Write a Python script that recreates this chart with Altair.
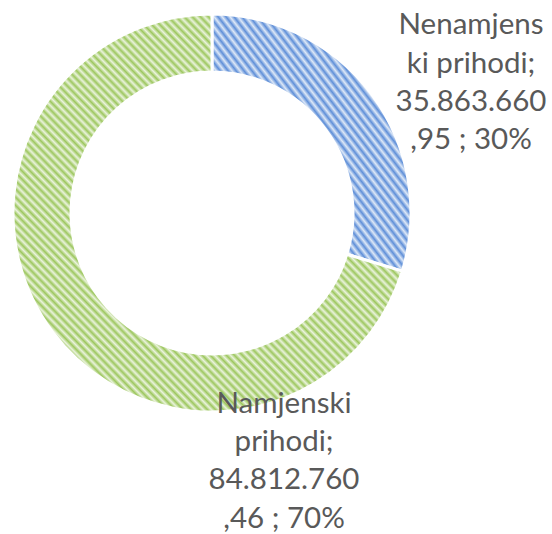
import altair as alt
import pandas as pd

categories = ["Nenamjenski prihodi", "Namjenski prihodi"]
values = [35863660.95, 84812760.46]
label_lines = [
    ["Nenamjens", "ki prihodi;", "35.863.660", ",95 ; 30%"],
    ["Namjenski", "prihodi;", "84.812.760", ",46 ; 70%"],
]

df = pd.DataFrame({
    "cat": categories,
    "val": values,
    "idx": list(range(len(categories))),
    "label": ["\n".join(l) for l in label_lines],
})


def stripes(dark, light, n):
    stops = [alt.GradientStop(offset=k / (2 * n), color=(dark if k % 2 else light))
             for k in range(2 * n + 1)]
    return alt.LinearGradient(gradient="linear", stops=stops, x1=0, y1=1, x2=1, y2=0)


blue_fill = stripes("#5f8fd8", "#dde8f7", 50)
green_fill = stripes("#9dc75f", "#eaf3dc", 97)

base = alt.Chart(df)

arcs = base.mark_arc(outerRadius=199, innerRadius=141, stroke="white", strokeWidth=3).encode(
    theta=alt.Theta("val:Q", stack=True),
    order=alt.Order("idx:Q"),
    fill=alt.condition(alt.datum.cat == categories[0], alt.value(blue_fill), alt.value(green_fill)),
)


def label_layer(cat, dx, dy):
    return base.mark_text(
        radius=260, dx=dx, dy=dy, font="Lato", fontSize=29.5, color="#595959",
        align="center", baseline="alphabetic", lineBreak="\n", lineHeight=38.3,
    ).encode(
        theta=alt.Theta("val:Q", stack=True),
        order=alt.Order("idx:Q"),
        text="label:N",
        opacity=alt.condition(alt.datum.cat == cat, alt.value(1), alt.value(0)),
    )


chart = alt.layer(
    arcs,
    label_layer(categories[0], 50, -24),
    label_layer(categories[1], 281, 45),
).properties(
    width=424, height=426,
    padding={"left": 0, "top": 0, "right": 128, "bottom": 108},
    autosize=alt.AutoSizeParams(type="none"),
).configure_view(stroke=None).configure(background="white")

chart.save("out.html", embed_options={"renderer": "svg", "actions": False})
